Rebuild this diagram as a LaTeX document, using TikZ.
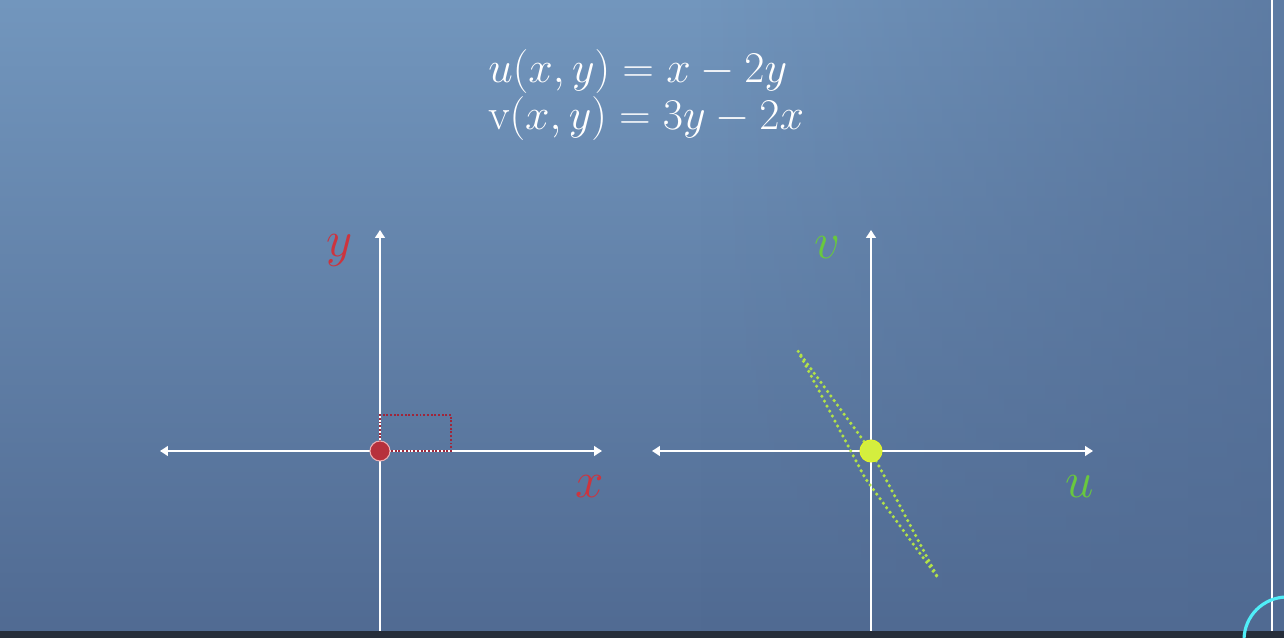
\documentclass[tikz,border=0pt]{standalone}
\usepackage{fix-cm}
\usepackage{amsmath}
\usepackage{tikz}
\usetikzlibrary{arrows.meta,positioning,fadings}
\definecolor{BgLight}{RGB}{114,150,189}
\definecolor{BgDark}{RGB}{80,106,146}
\definecolor{StripDark}{RGB}{38,46,58}
\definecolor{EdgeCyan}{RGB}{80,238,248}
\definecolor{MapRed}{RGB}{205,52,62}
\definecolor{DotRed}{RGB}{182,48,60}
\definecolor{BoxRed}{RGB}{160,38,58}
\definecolor{MapGreen}{RGB}{105,200,62}
\definecolor{DotGreen}{RGB}{212,238,62}
\definecolor{BoxGreen}{RGB}{178,226,72}

\begin{document}
\begin{tikzpicture}[
  axisln/.style={white,line width=1.5pt},
  tip/.style={-{Triangle[length=4.5pt,width=5.5pt]}},
  bothtips/.style={{Triangle[length=4.5pt,width=5.5pt]}-{Triangle[length=4.5pt,width=5.5pt]}},
  eq/.style={text=white,inner sep=0pt,font=\fontsize{25}{28}\selectfont},
  lbl/.style={inner sep=0pt,font=\fontsize{29}{30}\selectfont},
  dot/.style={circle,inner sep=0pt,line width=0.6pt},
  redbox/.style={BoxRed,line width=1.7pt,dash pattern=on 1.1pt off 1pt},
  greenbox/.style={BoxGreen,line width=2pt,line cap=round,dash pattern=on 0pt off 3.2pt},
]
% background
\shade[top color=BgLight,bottom color=BgDark] (0,0) rectangle (25.68,12.76);
\fill[BgDark,path fading=west,fill opacity=0.6] (14,0) rectangle (25.68,12.76);
\useasboundingbox (0,0) rectangle (25.68,12.76);
\fill[StripDark] (0,0) rectangle (25.68,0.14);
\coordinate (edgeTop) at (25.44,12.76);
\coordinate (edgeBot) at (25.44,0.14);
\draw[white,line width=1.2pt] (edgeTop) -- (edgeBot);
\begin{scope}
  \clip (0,0) rectangle (25.68,12.76);
  \draw[EdgeCyan,line width=1.8pt] (25.74,-0.04) circle (0.86);
\end{scope}

% the map
\node[eq,anchor=base west] (eqU) at (9.76,11.1) {$u(x,y) = x - 2y$};
\node[eq,anchor=base west] (eqV) at ([yshift=-0.94cm]eqU.base west) {$\mathrm{v}(x,y) = 3y - 2x$};

% xy plane
\coordinate (oXY) at (7.6,3.74);
\coordinate (xLo) at (3.2,3.74);
\coordinate (xHi) at (12.04,3.74);
\coordinate (yLo) at (7.6,0.14);
\coordinate (yHi) at (7.6,8.16);
\draw[axisln,bothtips] (xLo) -- (xHi);
\draw[axisln,tip] (yLo) -- (yHi);
\coordinate (sqX) at (9.02,3.74);
\coordinate (sqXY) at (9.02,4.46);
\coordinate (sqY) at (7.6,4.46);
\draw[redbox] (oXY) -- (sqX) -- (sqXY) -- (sqY) -- cycle;
\node[dot,fill=DotRed,draw=MapRed!40,minimum size=0.4cm] (ptXY) at (oXY) {};
\node[lbl,text=MapRed] (lblY) at (6.8,7.76) {$y$};
\node[lbl,text=MapRed] (lblX) at (11.8,3.02) {$x$};

% uv plane
\coordinate (oUV) at (17.42,3.74);
\coordinate (uLo) at (13.04,3.74);
\coordinate (uHi) at (21.86,3.74);
\coordinate (vLo) at (17.42,0.14);
\coordinate (vHi) at (17.42,8.16);
\draw[axisln,bothtips] (uLo) -- (uHi);
\draw[axisln,tip] (vLo) -- (vHi);
\coordinate (imX) at (18.76,1.2);
\coordinate (imXY) at (17.30,3.20);
\coordinate (imY) at (15.96,5.74);
\draw[greenbox] (oUV) -- (imX) -- (imXY) -- (imY) -- cycle;
\node[dot,fill=DotGreen,draw=DotGreen!70!yellow,minimum size=0.44cm] (ptUV) at (oUV) {};
\node[lbl,text=MapGreen] (lblV) at (16.54,7.8) {$v$};
\node[lbl,text=MapGreen] (lblU) at (21.6,3.02) {$u$};
\end{tikzpicture}
\end{document}
